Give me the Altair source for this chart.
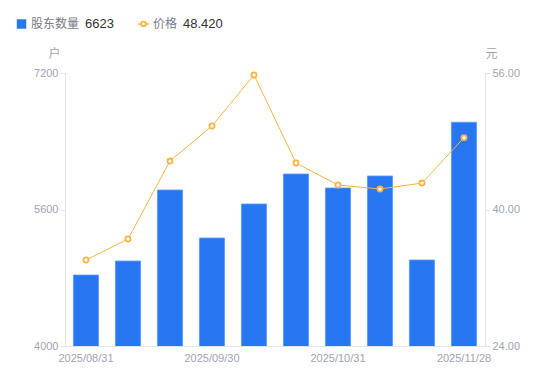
import altair as alt
import pandas as pd

dates = ["2025/08/31", "2025/09/10", "2025/09/19", "2025/09/30", "2025/10/10",
         "2025/10/20", "2025/10/31", "2025/11/10", "2025/11/20", "2025/11/28"]
holders = [4832, 4996, 5829, 5266, 5665, 6016, 5852, 5993, 5008, 6623]
prices = [34.08, 36.54, 45.68, 49.79, 55.77, 45.45, 42.87, 42.40, 43.10, 48.42]
shown_labels = ["2025/08/31", "2025/09/30", "2025/10/31", "2025/11/28"]

df = pd.DataFrame({"date": dates, "holders": holders, "price": prices})

FONT = "Liberation Sans, Noto Sans CJK SC, sans-serif"
CJK = "Noto Sans CJK SC, sans-serif"
BLUE = "#2777f3"
ORANGE = "#f8b444"
GRAY = "#a0a4b2"
AXIS_LINE = "#e3e5ea"

label_expr = "indexof(" + str(shown_labels).replace("'", '"') + ", datum.value) >= 0 ? datum.value : ''"

x = alt.X("date:N", sort=dates, title=None,
          scale=alt.Scale(paddingInner=0.4, paddingOuter=0.2),
          axis=alt.Axis(labelExpr=label_expr, labelAngle=0, ticks=False,
                        domainColor=AXIS_LINE, labelColor=GRAY, labelFont=FONT,
                        labelFontSize=11, labelPadding=6, grid=False))

bars = alt.Chart(df).mark_bar(color=BLUE, stroke="#5e9af6", strokeWidth=0.8, clip=True).encode(
    x=x,
    y=alt.Y("holders:Q", scale=alt.Scale(domain=[4000, 7200], nice=False, zero=False),
            axis=alt.Axis(values=[4000, 5600, 7200], format="d", title="户", titleAngle=0,
                          titleX=-5, titleY=-13, titleAlign="right", titleColor=GRAY,
                          titleFont=CJK, titleFontSize=12, titleFontWeight="normal",
                          labelColor=GRAY, labelFont=FONT, labelFontSize=11,
                          tickSize=5, tickColor=AXIS_LINE, domainColor=AXIS_LINE,
                          grid=False, labelPadding=2, orient="left")),
)

price_y = alt.Y("price:Q", scale=alt.Scale(domain=[24, 56], nice=False, zero=False),
                axis=alt.Axis(values=[24, 40, 56], format=".2f", title="元", titleAngle=0,
                              titleX=0, titleY=-13, titleAlign="left", titleColor=GRAY,
                              titleFont=CJK, titleFontSize=12, titleFontWeight="normal",
                              labelColor=GRAY, labelFont=FONT, labelFontSize=11,
                              tickSize=5, tickColor=AXIS_LINE, domainColor=AXIS_LINE,
                              grid=False, labelPadding=2, orient="right"))

line = alt.Chart(df).mark_line(color=ORANGE, strokeWidth=1).encode(x=x, y=price_y)
points = alt.Chart(df).mark_point(shape="circle", filled=True, fill="white", stroke=ORANGE,
                                  strokeWidth=1.8, size=26, opacity=1).encode(x=x, y=price_y)

price_layer = alt.layer(line, points)

one = pd.DataFrame({"k": [0]})
leg_y = -49
legend = alt.layer(
    alt.Chart(one).mark_square(color=BLUE, size=90, opacity=1).encode(
        x=alt.value(-43.5), y=alt.value(leg_y)),
    alt.Chart(one).mark_text(text="股东数量", align="left", baseline="middle", font=CJK,
                             fontSize=12, color="#767b88").encode(
        x=alt.value(-34), y=alt.value(leg_y)),
    alt.Chart(one).mark_text(text=str(holders[-1]), align="left", baseline="middle", font=FONT,
                             fontSize=13, color="#333333").encode(
        x=alt.value(20), y=alt.value(leg_y)),
    alt.Chart(one).mark_point(shape="M-1,0L1,0", filled=False, stroke=ORANGE,
                              strokeWidth=1.5, size=121, opacity=1).encode(
        x=alt.value(78.5), y=alt.value(leg_y)),
    alt.Chart(one).mark_point(shape="circle", filled=True, fill="white", stroke=ORANGE,
                              strokeWidth=1.8, size=22, opacity=1).encode(
        x=alt.value(78.5), y=alt.value(leg_y)),
    alt.Chart(one).mark_text(text="价格", align="left", baseline="middle", font=CJK,
                             fontSize=12, color="#767b88").encode(
        x=alt.value(88), y=alt.value(leg_y)),
    alt.Chart(one).mark_text(text=f"{prices[-1]:.3f}", align="left", baseline="middle", font=FONT,
                             fontSize=13, color="#333333").encode(
        x=alt.value(118), y=alt.value(leg_y)),
)

chart = alt.layer(bars, price_layer, legend).resolve_scale(y="independent").properties(
    width=420, height=273,
    background="white",
    autosize=alt.AutoSizeParams(type="none"),
    padding={"left": 57, "top": 65, "right": 57, "bottom": 27},
).configure_view(strokeWidth=0, stroke="transparent")

chart.save("out.html", embed_options={"renderer": "svg", "actions": False})
